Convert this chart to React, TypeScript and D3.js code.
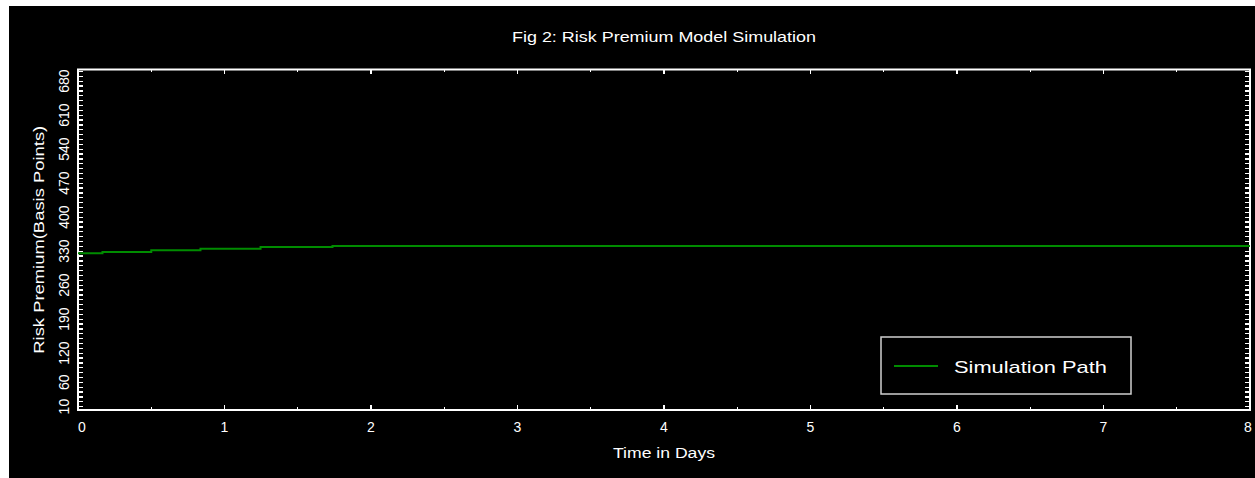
import React, { useEffect, useRef } from "react";
import * as d3 from "d3";

// simulated path (days, basis points)
const days = [0, 0.167, 0.5, 0.836, 1.246, 1.737, 8];
const premium = [325.6, 328.3, 331.8, 335.0, 338.5, 340.6, 340.6];

const xTicks = [0, 1, 2, 3, 4, 5, 6, 7, 8];
const xMinorTicks = [0.5, 1.5, 2.5, 3.5, 4.5, 5.5, 6.5, 7.5];
const yTicks = [10, 60, 120, 190, 260, 330, 400, 470, 540, 610, 680];
const yMinorTicks = d3.range(10, 701, 10);

const title = "Fig 2: Risk Premium Model Simulation";
const xTitle = "Time in Days";
const yTitle = "Risk Premium(Basis Points)";
const seriesName = "Simulation Path";

const App = () => {
  const ref = useRef<SVGSVGElement>(null);

  const W = 1255;
  const H = 478;
  const margin = { top: 69.5, right: 5, bottom: 68, left: 78 };
  const green = "#008c00";
  const font = "'Liberation Sans', Arial, sans-serif";

  useEffect(() => {
    const svg = d3.select(ref.current);
    svg.selectAll("*").remove();

    svg.append("rect")
      .attr("x", 9).attr("y", 6)
      .attr("width", W - 9).attr("height", H - 6)
      .attr("fill", "#000");

    const x = d3.scaleLinear().domain([0, 8]).range([margin.left, W - margin.right]);
    const y = d3.scaleLinear().domain([3, 704]).range([H - margin.bottom, margin.top]);
    const [x0, x1] = x.range();
    const [yb, yt] = y.range();

    // frame
    svg.append("rect")
      .attr("x", x0).attr("y", yt)
      .attr("width", x1 - x0).attr("height", yb - yt)
      .attr("fill", "none").attr("stroke", "#fff").attr("stroke-width", 2);

    const ticks = svg.append("g").attr("stroke", "#fff").attr("stroke-width", 1.3)
      .attr("shape-rendering", "crispEdges");

    // x ticks bottom + top
    xTicks.forEach((t) => {
      ticks.append("line").attr("x1", x(t)).attr("x2", x(t)).attr("y1", yb).attr("y2", yb - 5);
      ticks.append("line").attr("x1", x(t)).attr("x2", x(t)).attr("y1", yt).attr("y2", yt + 4);
    });
    xMinorTicks.forEach((t) => {
      ticks.append("line").attr("x1", x(t)).attr("x2", x(t)).attr("y1", yb).attr("y2", yb - 3);
      ticks.append("line").attr("x1", x(t)).attr("x2", x(t)).attr("y1", yt).attr("y2", yt + 2);
    });

    // y ticks left + right
    yMinorTicks.forEach((v) => {
      ticks.append("line").attr("x1", x0).attr("x2", x0 + 5).attr("y1", y(v)).attr("y2", y(v));
      ticks.append("line").attr("x1", x1).attr("x2", x1 - 5).attr("y1", y(v)).attr("y2", y(v));
    });

    // tick labels
    svg.append("g").selectAll("text")
      .data(xTicks)
      .enter().append("text")
      .attr("x", (d) => x(d) + (d === 0 ? 4 : d === 8 ? -2 : 0))
      .attr("y", 432)
      .attr("text-anchor", "middle")
      .attr("fill", "#fff")
      .style("font", `14px ${font}`)
      .text((d) => d);

    svg.append("g").selectAll("text")
      .data(yTicks)
      .enter().append("text")
      .attr("transform", (d) => `translate(69, ${y(d)}) rotate(-90)`)
      .attr("text-anchor", "middle")
      .attr("fill", "#fff")
      .style("font", `14px ${font}`)
      .text((d) => d);

    // titles
    svg.append("text")
      .attr("x", (x0 + x1) / 2).attr("y", 42)
      .attr("text-anchor", "middle").attr("fill", "#fff")
      .attr("textLength", 304).attr("lengthAdjust", "spacingAndGlyphs")
      .style("font", `15px ${font}`)
      .text(title);

    svg.append("text")
      .attr("x", (x0 + x1) / 2).attr("y", 458)
      .attr("text-anchor", "middle").attr("fill", "#fff")
      .attr("textLength", 102).attr("lengthAdjust", "spacingAndGlyphs")
      .style("font", `14px ${font}`)
      .text(xTitle);

    svg.append("text")
      .attr("transform", `translate(44, ${(yb + yt) / 2}) rotate(-90)`)
      .attr("text-anchor", "middle").attr("fill", "#fff")
      .attr("textLength", 228).attr("lengthAdjust", "spacingAndGlyphs")
      .style("font", `15px ${font}`)
      .text(yTitle);

    // series
    const line = d3.line<number>()
      .x((_, i) => x(days[i]))
      .y((d) => y(d))
      .curve(d3.curveStepAfter);

    svg.append("path")
      .datum(premium)
      .attr("d", line)
      .attr("fill", "none")
      .attr("stroke", green)
      .attr("stroke-width", 2);

    // legend
    const lg = svg.append("g");
    lg.append("rect")
      .attr("x", 881).attr("y", 337).attr("width", 250).attr("height", 57)
      .attr("fill", "#000").attr("stroke", "#cfcfcf").attr("stroke-width", 1.5);
    lg.append("line")
      .attr("x1", 894).attr("x2", 938).attr("y1", 366).attr("y2", 366)
      .attr("stroke", green).attr("stroke-width", 2);
    lg.append("text")
      .attr("x", 954).attr("y", 373)
      .attr("fill", "#fff")
      .attr("textLength", 153).attr("lengthAdjust", "spacingAndGlyphs")
      .style("font", `17px ${font}`)
      .text(seriesName);
  }, []);

  return (
    <svg ref={ref} width={W} height={H} style={{ position: "absolute", left: 0, top: 0 }}></svg>
  );
};

export default App;
